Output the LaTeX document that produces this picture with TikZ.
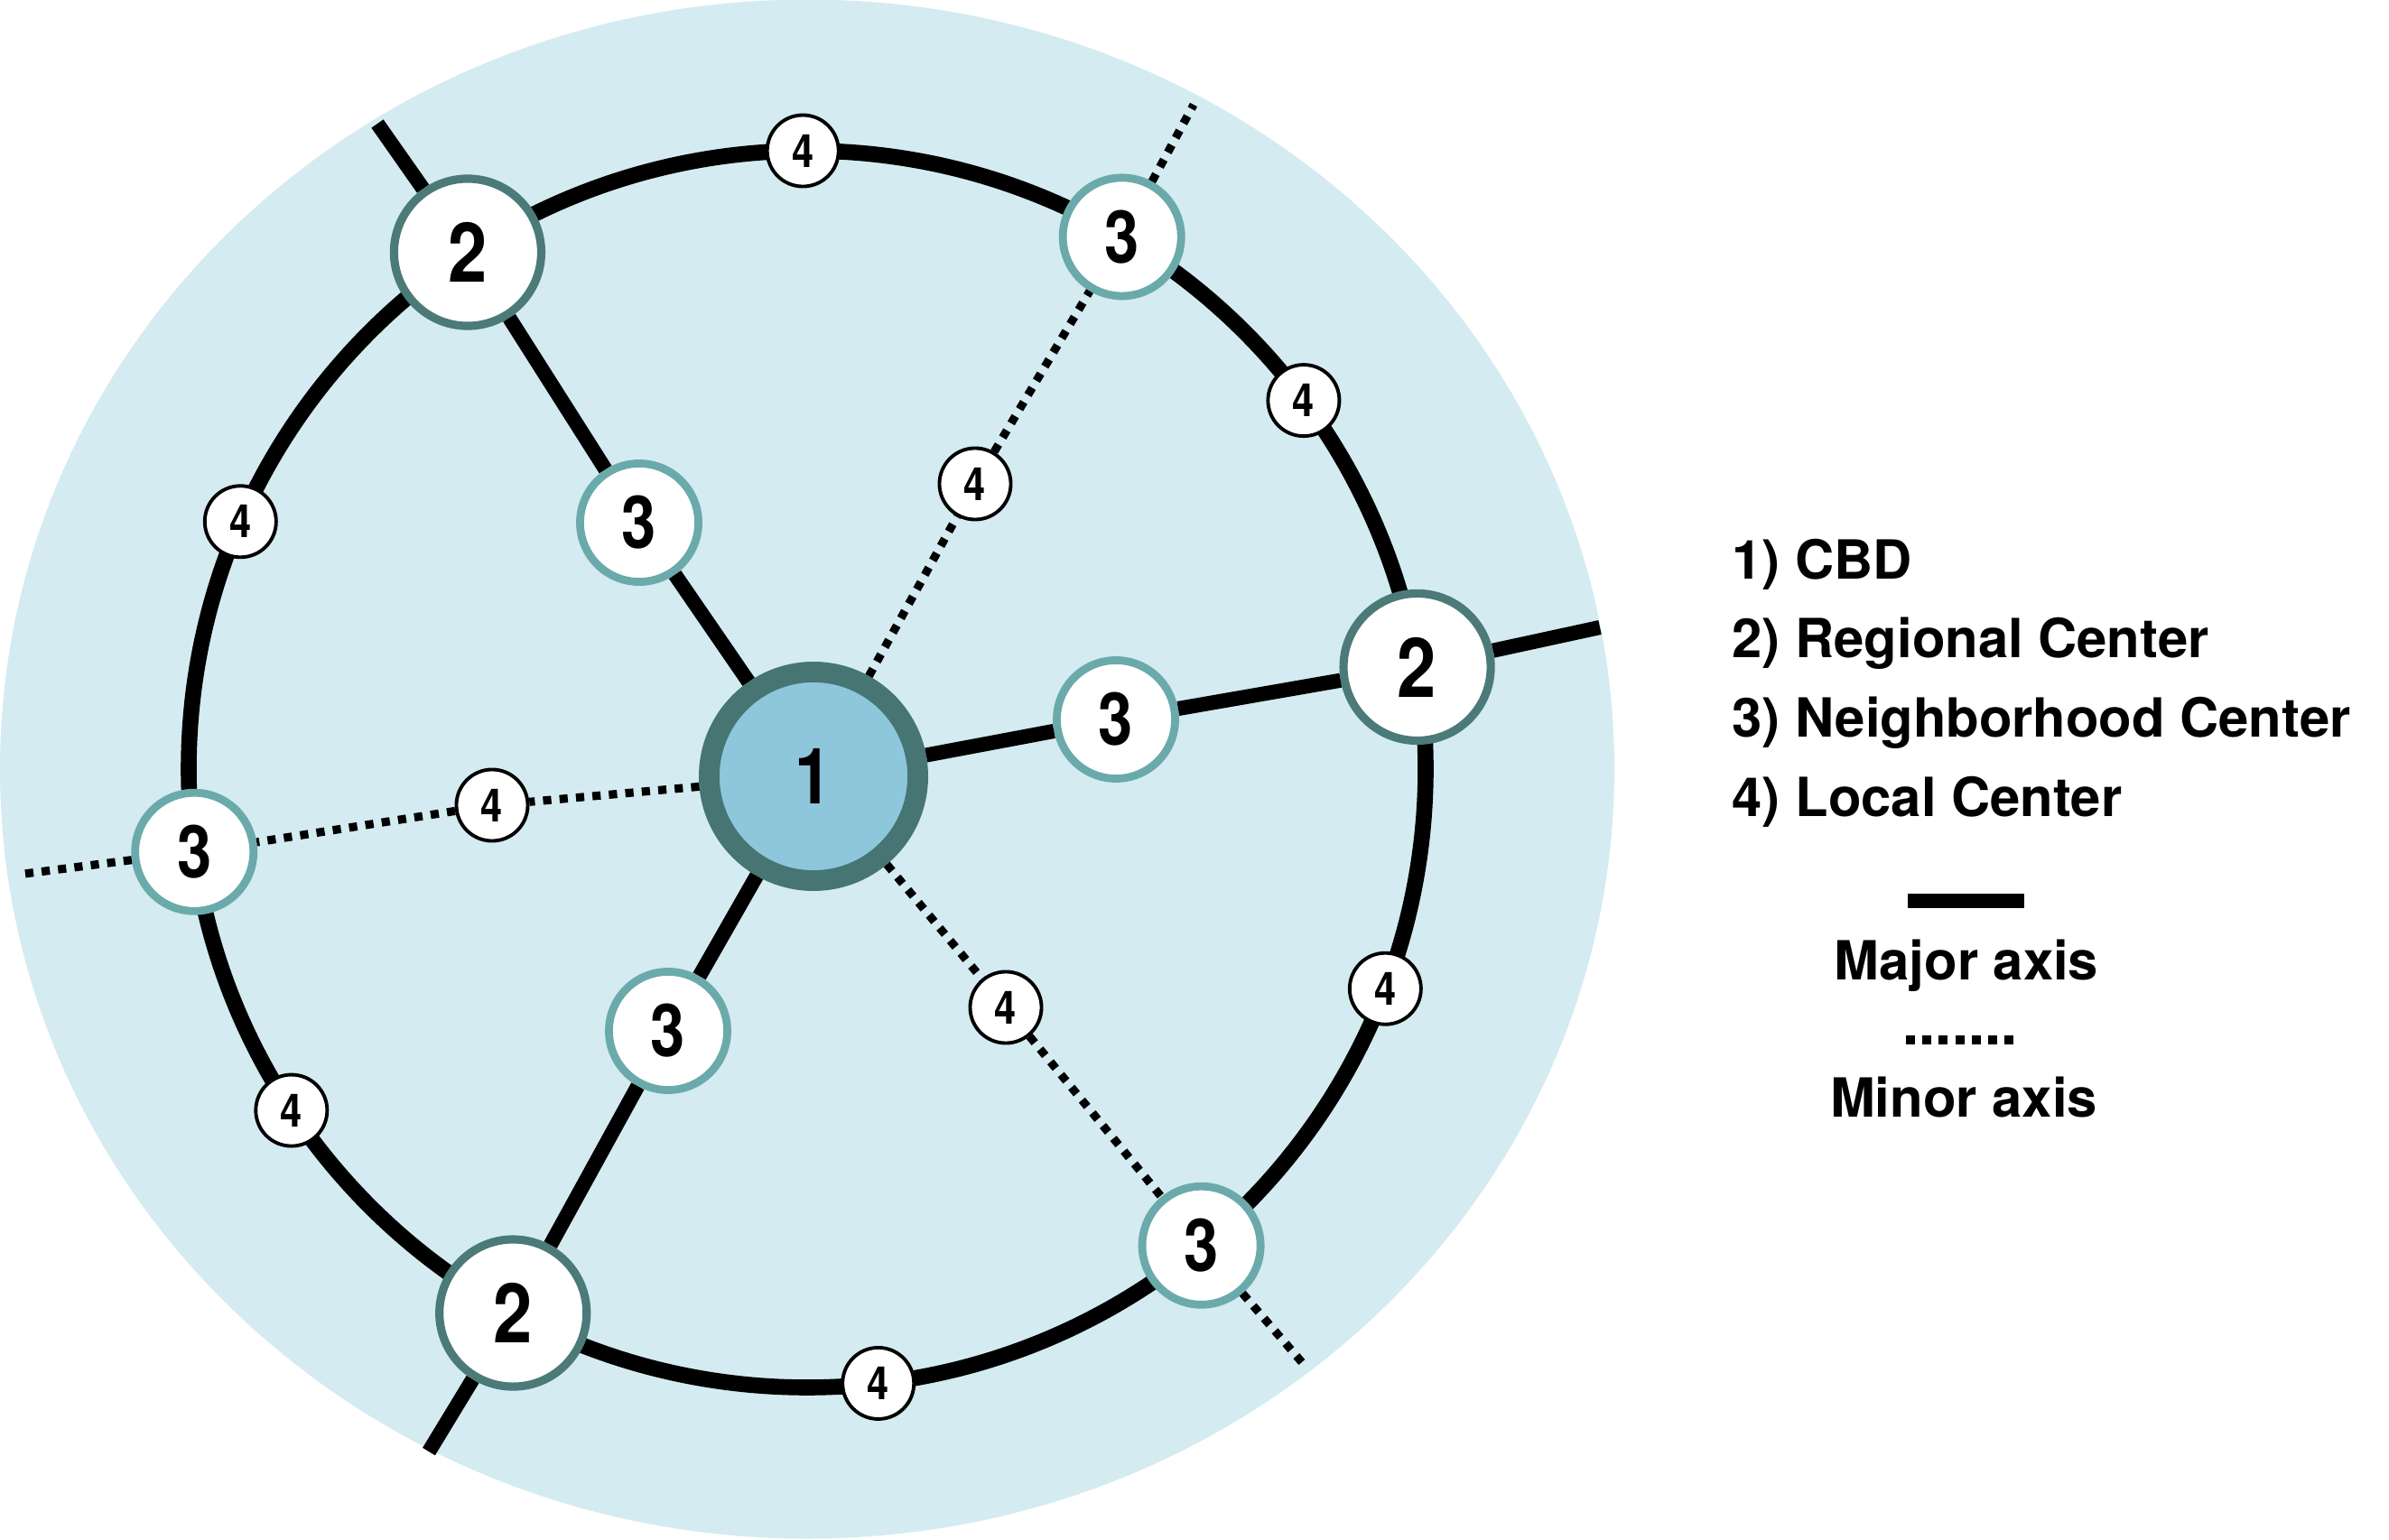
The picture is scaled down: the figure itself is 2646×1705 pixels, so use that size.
\documentclass[tikz,border=0pt]{standalone}
\usepackage{fontspec}
\setmainfont{TeX Gyre Heros}
\newfontfamily\digitfont{TeX Gyre Heros}[FakeStretch=0.85]
\definecolor{bgblue}{HTML}{D4EBF1}
\definecolor{cbdfill}{HTML}{8EC6DB}
\definecolor{cbdline}{HTML}{467574}
\definecolor{regline}{HTML}{4B7A79}
\definecolor{nbhline}{HTML}{6BAAAB}
\tikzset{
  hubnode/.style={circle, draw, fill=white, inner sep=0pt},
  cbdnode/.style={hubnode, fill=cbdfill, draw=cbdline, line width=6.5pt, minimum size=2.31cm,
    font=\digitfont\bfseries\fontsize{24.5pt}{24.5pt}\selectfont},
  regnode/.style={hubnode, draw=regline, line width=2.6pt, minimum size=1.63cm,
    font=\digitfont\bfseries\fontsize{26pt}{26pt}\selectfont},
  nbhnode/.style={hubnode, draw=nbhline, line width=2.5pt, minimum size=1.31cm,
    font=\digitfont\bfseries\fontsize{23pt}{23pt}\selectfont},
  locnode/.style={hubnode, draw=black, line width=1.1pt, minimum size=0.79cm,
    font=\digitfont\bfseries\fontsize{14.5pt}{14.5pt}\selectfont},
  ringroad/.style={line width=5pt},
  majoraxis/.style={line width=4.6pt},
  minoraxis/.style={line width=2.6pt, dash pattern=on 2.6pt off 2.6pt},
  legtext/.style={inner sep=0pt, font=\bfseries\fontsize{17pt}{20pt}\selectfont}
}
\begin{document}
\begin{tikzpicture}[x=0.01cm, y=0.01cm]
  \useasboundingbox (0,0) rectangle (2646,1705);
  \coordinate (ctr) at (894,853);

  \fill[bgblue] (ctr) ellipse [x radius=894, y radius=852.5];
  \draw[ringroad] (ctr) circle [radius=685];

  % centre
  \node[cbdnode] (cbd) at (901,845) {1};

  % inside the ring
  \node[nbhnode] (iNW) at (708,1126) {3};
  \node[nbhnode] (iE) at (1236,908) {3};
  \node[nbhnode] (iSW) at (740,563) {3};
  \node[locnode] (mNE) at (1080,1169) {4};
  \node[locnode] (mW) at (545,813) {4};
  \node[locnode] (mSE) at (1114,589) {4};

  % on the ring
  \node[locnode] (lN) at ([shift={(90.4:685)}]ctr) {4};
  \node[regnode] (rNW) at ([shift={(123.3:685)}]ctr) {2};
  \node[nbhnode] (nNE) at ([shift={(59.4:685)}]ctr) {3};
  \node[locnode] (lNE) at ([shift={(36.6:685)}]ctr) {4};
  \node[regnode] (rE) at ([shift={(9.5:685)}]ctr) {2};
  \node[locnode] (lSE) at ([shift={(-20.8:685)}]ctr) {4};
  \node[nbhnode] (nSE) at ([shift={(-50.4:685)}]ctr) {3};
  \node[locnode] (lS) at ([shift={(-83.4:685)}]ctr) {4};
  \node[regnode] (rSW) at ([shift={(-118.4:685)}]ctr) {2};
  \node[locnode] (lSW) at ([shift={(-146.5:685)}]ctr) {4};
  \node[nbhnode] (nW) at ([shift={(-172.3:685)}]ctr) {3};
  \node[locnode] (lNW) at ([shift={(156.4:685)}]ctr) {4};

  % outer ends
  \coordinate (eE) at (1772,1010);
  \coordinate (eNW) at (418,1568);
  \coordinate (eSW) at (475,97);
  \coordinate (eNE) at (1322,1589);
  \coordinate (eW) at (19,736);
  \coordinate (eSE) at (1447,190);

  % axes
  \draw[majoraxis] (cbd) -- (iE) -- (rE) -- (eE);
  \draw[majoraxis] (cbd) -- (iNW) -- (rNW) -- (eNW);
  \draw[majoraxis] (cbd) -- (iSW) -- (rSW) -- (eSW);
  \draw[minoraxis] (cbd) -- (mNE) -- (nNE) -- (eNE);
  \draw[minoraxis] (cbd) -- (mW) -- (nW) -- (eW);
  \draw[minoraxis] (cbd) -- (mSE) -- (nSE) -- (eSE);

  % legend
  \node[legtext, anchor=base west] (leg1) at (1918,1063) {1) CBD};
  \node[legtext, anchor=base west] (leg2) at (1918,976) {2) Regional Center};
  \node[legtext, anchor=base west] (leg3) at (1918,889) {3) Neighborhood Center};
  \node[legtext, anchor=base west] (leg4) at (1918,801) {4) Local Center};

  \coordinate (majA) at (2113,707);
  \coordinate (majB) at (2242,707);
  \draw[line width=4.5pt] (majA) -- (majB);
  \node[legtext, anchor=base] (majlab) at (2178,620) {Major axis};

  \coordinate (minA) at (2111,553);
  \coordinate (minB) at (2232,553);
  \draw[line width=2.85pt, dash pattern=on 2.85pt off 2.33pt] (minA) -- (minB);
  \node[legtext, anchor=base] (minlab) at (2175,468) {Minor axis};
\end{tikzpicture}
\end{document}
